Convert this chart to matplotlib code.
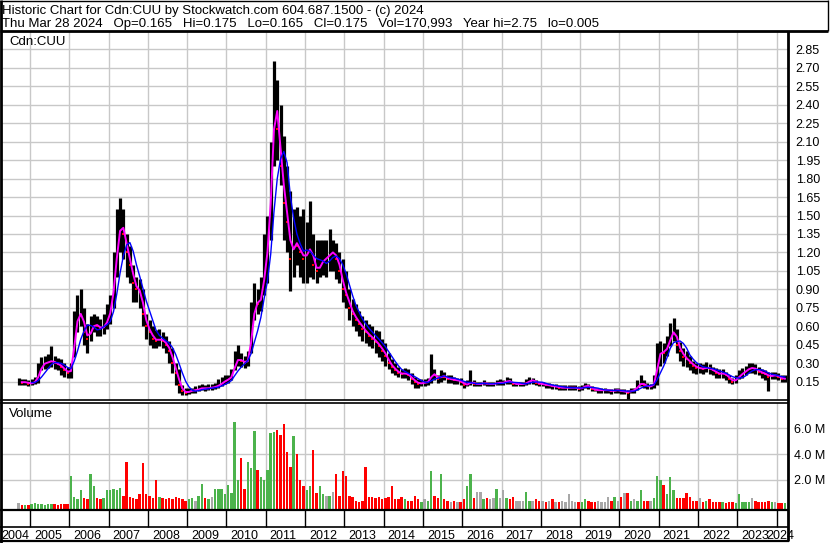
import matplotlib
matplotlib.use("Agg")
import matplotlib.pyplot as plt
import numpy as np
import pandas as pd
from matplotlib.lines import Line2D

plt.rcParams['font.family'] = ['Liberation Sans', 'DejaVu Sans']

# ---------------- data (monthly, Sep 2004 .. Mar 2024) ----------------
start_month = "2004-09"
close = [
    0.15, 0.14, 0.15, 0.13,
    0.14, 0.15, 0.22, 0.29, 0.30, 0.31, 0.32, 0.30, 0.29, 0.27, 0.24, 0.22,
    0.25, 0.60, 0.68, 0.72, 0.55, 0.50, 0.58, 0.62, 0.60, 0.58, 0.60, 0.66,
    0.75, 1.00, 1.30, 1.45, 1.35, 1.20, 1.10, 0.95, 0.90, 0.88, 0.70, 0.60,
    0.55, 0.50, 0.48, 0.50, 0.48, 0.45, 0.40, 0.30, 0.22, 0.12, 0.07, 0.06,
    0.07, 0.08, 0.08, 0.09, 0.10, 0.09, 0.10, 0.10, 0.11, 0.12, 0.14, 0.16,
    0.17, 0.20, 0.32, 0.33, 0.32, 0.30, 0.33, 0.60, 0.80, 0.78, 0.85, 1.10,
    1.30, 1.90, 2.50, 2.20, 1.90, 1.60, 1.45, 1.15, 1.30, 1.25, 1.20, 1.15,
    1.20, 1.25, 1.10, 1.05, 1.10, 1.15, 1.15, 1.20, 1.20, 1.15, 1.05, 0.90,
    0.85, 0.75, 0.70, 0.65, 0.62, 0.58, 0.55, 0.52, 0.50, 0.47, 0.44, 0.40,
    0.36, 0.30, 0.27, 0.24, 0.22, 0.21, 0.22, 0.20, 0.17, 0.15, 0.13, 0.14,
    0.14, 0.15, 0.22, 0.20, 0.17, 0.20, 0.19, 0.17, 0.17, 0.16, 0.16, 0.15,
    0.12, 0.13, 0.15, 0.13, 0.13, 0.13, 0.14, 0.13, 0.13, 0.13, 0.14, 0.14,
    0.14, 0.16, 0.15, 0.13, 0.13, 0.13, 0.13, 0.14, 0.16, 0.16, 0.14, 0.13,
    0.13, 0.12, 0.12, 0.11, 0.11, 0.10, 0.10, 0.10, 0.10, 0.10, 0.10, 0.09,
    0.10, 0.12, 0.11, 0.09, 0.08, 0.08, 0.08, 0.08, 0.08, 0.07, 0.08, 0.08,
    0.07, 0.07, 0.06, 0.08, 0.08, 0.12, 0.14, 0.12, 0.11, 0.11, 0.14, 0.35,
    0.40, 0.38, 0.45, 0.52, 0.58, 0.45, 0.40, 0.35, 0.33, 0.30, 0.28, 0.26,
    0.26, 0.25, 0.27, 0.25, 0.24, 0.22, 0.21, 0.22, 0.20, 0.17, 0.15, 0.17,
    0.20, 0.22, 0.24, 0.26, 0.26, 0.25, 0.23, 0.22, 0.21, 0.19, 0.20, 0.20,
    0.19, 0.17, 0.175,
]
high = [
    0.18, 0.17, 0.17, 0.16,
    0.17, 0.19, 0.30, 0.35, 0.36, 0.37, 0.44, 0.36, 0.34, 0.33, 0.30, 0.27,
    0.30, 0.72, 0.85, 0.90, 0.75, 0.62, 0.68, 0.70, 0.68, 0.66, 0.70, 0.78,
    0.85, 1.20, 1.55, 1.64, 1.55, 1.35, 1.25, 1.10, 1.00, 0.98, 0.90, 0.70,
    0.65, 0.60, 0.57, 0.58, 0.55, 0.52, 0.48, 0.42, 0.30, 0.25, 0.12, 0.10,
    0.10, 0.10, 0.11, 0.12, 0.13, 0.12, 0.13, 0.13, 0.14, 0.17, 0.19, 0.20,
    0.20, 0.25, 0.40, 0.45, 0.38, 0.36, 0.40, 0.80, 0.95, 0.90, 1.00, 1.35,
    1.50, 2.10, 2.76, 2.60, 2.40, 2.15, 1.90, 1.70, 1.55, 1.57, 1.50, 1.55,
    1.45, 1.62, 1.35, 1.30, 1.30, 1.30, 1.30, 1.39, 1.30, 1.28, 1.20, 1.15,
    1.05, 0.90, 0.82, 0.78, 0.72, 0.68, 0.65, 0.62, 0.60, 0.57, 0.56, 0.50,
    0.46, 0.38, 0.33, 0.30, 0.27, 0.25, 0.26, 0.25, 0.22, 0.19, 0.17, 0.17,
    0.17, 0.18, 0.37, 0.25, 0.20, 0.24, 0.23, 0.20, 0.20, 0.19, 0.18, 0.18,
    0.15, 0.16, 0.24, 0.16, 0.15, 0.15, 0.16, 0.15, 0.15, 0.15, 0.16, 0.17,
    0.16, 0.19, 0.18, 0.15, 0.15, 0.15, 0.15, 0.17, 0.19, 0.18, 0.16, 0.15,
    0.15, 0.14, 0.14, 0.13, 0.13, 0.12, 0.12, 0.12, 0.12, 0.12, 0.12, 0.11,
    0.12, 0.14, 0.13, 0.11, 0.10, 0.10, 0.10, 0.10, 0.09, 0.09, 0.10, 0.10,
    0.09, 0.09, 0.08, 0.10, 0.10, 0.16, 0.20, 0.16, 0.14, 0.13, 0.20, 0.46,
    0.48, 0.46, 0.52, 0.63, 0.67, 0.58, 0.47, 0.42, 0.40, 0.36, 0.32, 0.30,
    0.30, 0.29, 0.31, 0.29, 0.27, 0.26, 0.25, 0.25, 0.23, 0.20, 0.18, 0.20,
    0.24, 0.26, 0.28, 0.30, 0.30, 0.29, 0.27, 0.25, 0.24, 0.23, 0.23, 0.23,
    0.22, 0.20, 0.20,
]
low = [
    0.12, 0.12, 0.12, 0.11,
    0.12, 0.13, 0.14, 0.24, 0.25, 0.26, 0.27, 0.25, 0.24, 0.20, 0.19, 0.18,
    0.18, 0.35, 0.55, 0.60, 0.45, 0.38, 0.48, 0.55, 0.52, 0.52, 0.54, 0.58,
    0.62, 0.75, 1.00, 1.20, 1.15, 1.00, 0.95, 0.80, 0.80, 0.75, 0.60, 0.50,
    0.45, 0.42, 0.42, 0.44, 0.42, 0.38, 0.30, 0.22, 0.12, 0.06, 0.04, 0.04,
    0.05, 0.06, 0.06, 0.07, 0.08, 0.07, 0.08, 0.08, 0.09, 0.10, 0.11, 0.13,
    0.14, 0.16, 0.24, 0.28, 0.27, 0.26, 0.28, 0.38, 0.65, 0.70, 0.72, 0.85,
    0.95, 1.30, 1.90, 1.95, 1.75, 1.30, 1.20, 0.89, 1.00, 1.10, 1.00, 0.95,
    0.95, 1.00, 0.98, 0.95, 1.00, 1.02, 1.00, 1.05, 1.05, 0.98, 0.95, 0.80,
    0.75, 0.65, 0.60, 0.56, 0.52, 0.48, 0.46, 0.44, 0.42, 0.38, 0.35, 0.32,
    0.28, 0.25, 0.22, 0.20, 0.19, 0.18, 0.18, 0.16, 0.13, 0.10, 0.10, 0.11,
    0.11, 0.12, 0.14, 0.16, 0.14, 0.15, 0.16, 0.14, 0.14, 0.13, 0.13, 0.12,
    0.10, 0.11, 0.12, 0.11, 0.11, 0.11, 0.12, 0.11, 0.11, 0.11, 0.12, 0.12,
    0.12, 0.13, 0.13, 0.11, 0.11, 0.11, 0.11, 0.12, 0.13, 0.13, 0.12, 0.11,
    0.11, 0.10, 0.10, 0.09, 0.09, 0.08, 0.08, 0.08, 0.08, 0.08, 0.08, 0.07,
    0.08, 0.10, 0.09, 0.07, 0.07, 0.06, 0.06, 0.06, 0.06, 0.05, 0.06, 0.06,
    0.05, 0.05, 0.005, 0.06, 0.06, 0.08, 0.11, 0.10, 0.09, 0.09, 0.10, 0.12,
    0.28, 0.30, 0.36, 0.44, 0.48, 0.38, 0.32, 0.28, 0.27, 0.24, 0.22, 0.21,
    0.22, 0.21, 0.23, 0.21, 0.20, 0.18, 0.18, 0.18, 0.16, 0.14, 0.13, 0.14,
    0.17, 0.18, 0.20, 0.22, 0.22, 0.21, 0.20, 0.18, 0.16, 0.077, 0.17, 0.17,
    0.16, 0.15, 0.15,
]
volume_m = [
    0.20, 0.08, 0.06, 0.06,
    0.12, 0.20, 0.12, 0.15, 0.10, 0.12, 0.15, 0.12, 0.10, 0.12, 0.15, 0.12,
    2.3, 0.7, 0.5, 1.2, 0.6, 0.5, 2.5, 1.5, 0.6, 0.5, 0.6, 1.2,
    1.2, 1.3, 1.2, 1.4, 0.8, 3.4, 0.7, 0.6, 0.5, 0.9, 3.3, 0.9,
    0.8, 0.6, 2.0, 0.7, 0.6, 0.5, 0.6, 0.5, 0.7, 0.6, 0.5, 0.4,
    0.5, 0.6, 0.4, 0.8, 1.7, 0.6, 0.5, 0.7, 1.3, 1.3, 1.3, 0.9,
    1.6, 1.0, 6.5, 2.0, 3.7, 1.3, 3.4, 2.9, 5.8, 2.8, 2.2, 2.0,
    2.8, 5.6, 5.7, 5.9, 5.5, 6.3, 4.2, 3.0, 5.4, 4.0, 2.0, 1.5,
    1.2, 1.5, 4.3, 1.0, 1.5, 0.9, 0.8, 0.8, 1.1, 2.5, 0.8, 2.7,
    2.3, 0.8, 0.7, 0.4, 0.3, 0.4, 3.0, 0.7, 0.7, 0.6, 0.7, 0.5,
    0.6, 0.7, 1.5, 0.5, 0.5, 0.7, 0.5, 0.4, 0.4, 0.8, 0.5, 0.3,
    0.5, 0.4, 2.7, 0.8, 0.6, 2.5, 0.5, 0.4, 0.3, 0.4, 0.3, 0.3,
    0.5, 1.5, 2.5, 0.6, 1.1, 1.1, 0.5, 0.6, 0.5, 0.6, 1.3, 0.6,
    1.2, 0.6, 0.5, 0.7, 0.4, 0.4, 0.4, 1.1, 0.4, 0.4, 0.5, 0.4,
    0.4, 0.3, 0.4, 0.5, 0.3, 0.3, 0.4, 0.3, 0.9, 0.4, 0.3, 0.3,
    0.3, 0.5, 0.4, 0.3, 0.3, 0.4, 0.3, 0.3, 0.7, 0.4, 0.7, 0.4,
    0.7, 1.0, 1.0, 0.4, 0.5, 0.4, 1.2, 0.4, 0.4, 0.4, 0.6, 2.3,
    2.0, 1.6, 0.9, 2.2, 1.2, 0.6, 0.6, 0.6, 1.0, 0.7, 0.4, 0.4,
    0.6, 0.3, 0.4, 0.5, 0.3, 0.3, 0.3, 0.3, 0.2, 0.3, 0.3, 0.2,
    0.9, 0.3, 0.3, 0.3, 0.6, 0.4, 0.3, 0.3, 0.3, 0.4, 0.3, 0.3,
    0.2, 0.2, 0.2,
]
price_ticks = [0.15, 0.30, 0.45, 0.60, 0.75, 0.90, 1.05, 1.20, 1.35, 1.50,
               1.65, 1.80, 1.95, 2.10, 2.25, 2.40, 2.55, 2.70, 2.85]
volume_ticks = [2.0, 4.0, 6.0]
year_labels = list(range(2004, 2025))
title1 = "Historic Chart for Cdn:CUU by Stockwatch.com 604.687.1500 - (c) 2024"
title2 = ("Thu Mar 28 2024   Op=0.165   Hi=0.175   Lo=0.165   Cl=0.175   "
          "Vol=170,993   Year hi=2.75   lo=0.005")
symbol = "Cdn:CUU"

# ---------------- derived ----------------
dates = pd.date_range(start_month + "-01", periods=len(close), freq="MS")
xs = dates.year.values + (dates.month.values - 0.5) / 12.0
c = pd.Series(close)
ma_fast = c.rolling(2).mean()
ma_slow = c.rolling(5).mean()
chg = c.diff().fillna(0).values
vcol = np.where(chg > 0, '#4cb34c', np.where(chg < 0, '#ff0000', '#a8a8a8'))

# ---------------- layout ----------------
W, H = 830, 543
fig = plt.figure(figsize=(W / 100, H / 100), dpi=100)
fig.patch.set_facecolor('white')

def px_axes(x0, y0, x1, y1):
    return fig.add_axes([x0 / W, 1 - y1 / H, (x1 - x0) / W, (y1 - y0) / H])

def hline(y, x0, x1, lw=1.0, color='black'):
    fig.add_artist(Line2D([x0 / W, x1 / W], [1 - y / H, 1 - y / H],
                          transform=fig.transFigure, color=color, lw=lw,
                          solid_capstyle='butt'))

def vline(x, y0, y1, lw=1.0, color='black'):
    fig.add_artist(Line2D([x / W, x / W], [1 - y0 / H, 1 - y1 / H],
                          transform=fig.transFigure, color=color, lw=lw,
                          solid_capstyle='butt'))

XL, XR = 2, 788
x_lo, x_hi = 2004.2875, 2024.288
grid_c = '#c8c8c8'
FS = 9.5
FS_AX = 9.0

# price panel
axp = px_axes(XL, 31, XR, 400)
axp.set_xlim(x_lo, x_hi)
axp.set_ylim(0, 3.0)
for s in axp.spines.values():
    s.set_visible(False)
axp.set_xticks(year_labels[1:])
axp.set_yticks(price_ticks)
axp.grid(True, color=grid_c, lw=1.0)
axp.set_axisbelow(True)
axp.tick_params(axis='x', length=0, labelbottom=False)
axp.tick_params(axis='y', length=0, left=False, labelleft=False,
                right=False, labelright=True, pad=5.5, labelsize=FS_AX)
axp.set_yticklabels([f"{t:.2f}" for t in price_ticks])
axp.vlines(xs, low, high, color='black', lw=2.3)
down = chg < 0
axp.plot(xs[down], np.array(close)[down], 's', color='red', ms=2.0, mew=0)
axp.plot(xs, ma_fast, color='#ff00ff', lw=1.4)
axp.plot(xs, ma_slow, color='#0000ff', lw=1.0)
axp.text(7 / (XR - XL), 1 - 14 / 369, symbol, transform=axp.transAxes,
         fontsize=FS, va='baseline', ha='left')

# volume panel
axv = px_axes(XL, 403, XR, 510)
axv.set_xlim(x_lo, x_hi)
v_lo = -0.32
axv.set_ylim(v_lo, 7.95)
for s in axv.spines.values():
    s.set_visible(False)
axv.set_xticks(year_labels[1:])
axv.set_yticks(volume_ticks)
axv.grid(True, color=grid_c, lw=1.0)
axv.set_axisbelow(True)
axv.tick_params(axis='x', length=0, labelbottom=False)
axv.tick_params(axis='y', length=0, left=False, labelleft=False,
                right=False, labelright=True, pad=4, labelsize=FS_AX)
axv.set_yticklabels([f"{t:.1f} M" for t in volume_ticks])
axv.bar(xs, np.array(volume_m) - v_lo, bottom=v_lo, width=0.062,
        color=vcol, linewidth=0)
axv.text(7 / (XR - XL), 1 - 14 / 107, "Volume", transform=axv.transAxes,
         fontsize=FS, va='baseline', ha='left')

# title
fig.text(2 / W, 1 - 14 / H, title1, fontsize=FS, va='baseline', ha='left')
fig.text(2 / W, 1 - 27 / H, title2, fontsize=FS, va='baseline', ha='left')

# frame lines
hline(0.5, 0, 828, lw=1.0)
hline(30.5, 0, 828, lw=2.0)
vline(827.5, 0, 31, lw=1.0)
vline(1, 0, 543, lw=2.0)
vline(788, 31, 541, lw=2.0)
hline(400, 0, 789, lw=1.2)
hline(403, 0, 789, lw=1.2)
hline(510, 0, 789, lw=1.6)
hline(527, 0, 789, lw=1.2)
hline(541, 0, 789, lw=1.6)

# year separators and labels
to_px = lambda yr: XL + (yr - x_lo) / (x_hi - x_lo) * (XR - XL)
for yr in year_labels:
    px = to_px(yr)
    if yr > year_labels[0]:
        vline(px, 510, 527, lw=1.0)
    lx = max(px + 4, 1)
    if yr == year_labels[-1]:
        lx = px - 10
    fig.text(lx / W, 1 - 539 / H, str(yr), fontsize=FS_AX, va='baseline',
             ha='left')

fig.savefig("out.png", dpi=100, facecolor='white')
